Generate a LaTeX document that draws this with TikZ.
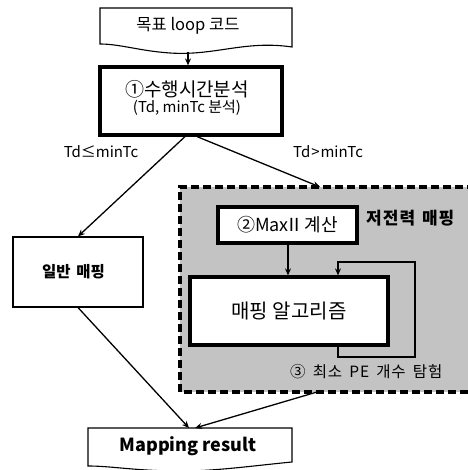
\documentclass[tikz,border=0pt]{standalone}
\usepackage{fontspec}
\setmainfont{Noto Sans CJK KR}
\usetikzlibrary{arrows.meta}
\begin{document}
\begin{tikzpicture}[x=1pt,y=-1pt,
  thin box/.style={draw=black,line width=1.1pt,fill=white,inner sep=0pt},
  thick box/.style={draw=black,line width=3.2pt,fill=white,inner sep=0pt},
  arr/.style={-{Stealth[length=7pt,width=6pt]},line width=1.3pt},
  lbl/.style={inner sep=0pt,font=\fontsize{15}{17}\selectfont}]
\useasboundingbox (0,0) rectangle (467,470);
% low-power region
\fill[gray!47] (180,187) rectangle (475,392);
\draw[line width=3.2pt,dash pattern=on 8pt off 4pt] (475,187) -- (180,187) -- (180,392) -- (475,392);
\coordinate (lpTop) at (320,187);
\coordinate (lpBot) at (317,392);
% top document shape
\draw[line width=1.1pt,fill=white] (100,8) -- (292,8) -- (292,47) .. controls (245,40) and (215,56) .. (170,53) .. controls (140,51) and (120,44) .. (100,44) -- cycle;
\node[lbl,font=\fontsize{16.5}{18}\selectfont] (doc) at (188,26) {목표 loop 코드};
\coordinate (docBot) at (188,52);
% analysis
\node[thick box,minimum width=182pt,minimum height=68pt] (ana) at (191,101) {};
\node[lbl,font=\fontsize{19}{21}\selectfont] (anaT) at (187,89) {①수행시간분석};
\node[lbl,font=\fontsize{15}{17}\selectfont] (anaS) at (187,108) {(Td, minTc 분석)};
\draw[arr] (docBot) -- (ana.north -| docBot);
% labels
\node[lbl] (l1) at (101,152) {Td≤minTc};
\node[lbl] (l2) at (328,152) {Td\kern1pt>\kern1pt minTc};
% general mapping
\node[thin box,minimum width=130pt,minimum height=70pt] (gen) at (78,272) {};
\node[lbl,anchor=west,font=\fontsize{15.5}{17}\selectfont\bfseries] (genT) at (42,272) {일반\hspace{2pt} 매핑};
% maxII
\node[thick box,minimum width=139pt,minimum height=36pt,font=\fontsize{18}{20}\selectfont] (max) at (287.5,225) {②Max\kern-3pt Ⅱ\kern-3pt\ 계산};
\node[lbl,anchor=west,font=\fontsize{17}{19}\selectfont\bfseries\addfontfeature{LetterSpace=6}] (lp) at (366,218) {저전력\hspace{2pt} 매핑};
% algorithm
\node[thick box,minimum width=198pt,minimum height=68pt,font=\fontsize{20}{22}\selectfont] (alg) at (289,311) {매핑 알고리즘};
\draw[arr] (max.south -| 288,0) -- (alg.north -| 288,0);
\draw[arr] (alg.south -| 338,0) -- (338,357) -- (415,357) -- (415,262) -- (338,262) -- (alg.north -| 338,0);
\node[lbl,anchor=west,font=\fontsize{15.5}{17}\selectfont\addfontfeature{LetterSpace=5}] (pe) at (290,372) {③\hspace{3pt} 최소\hspace{3pt} PE\hspace{3pt} 개수\hspace{3pt} 탐험};
% mapping result doc
\draw[line width=1.1pt,fill=white] (88,428) -- (292,428) -- (292,462) .. controls (250,466) and (210,472) .. (170,471) .. controls (130,470) and (110,466) .. (88,466) -- cycle;
\node[lbl,font=\fontsize{18}{20}\selectfont\bfseries] (res) at (188,446) {Mapping result};
\coordinate (resTop) at (192,428);
% connectors
\draw[arr] ([xshift=-6pt]ana.south) -- (gen.north);
\draw[arr] ([xshift=6pt]ana.south) -- (lpTop);
\draw[arr] (gen.south) -- ([xshift=-3pt]resTop);
\draw[arr] (lpBot) -- ([xshift=3pt]resTop);
\end{tikzpicture}
\end{document}
